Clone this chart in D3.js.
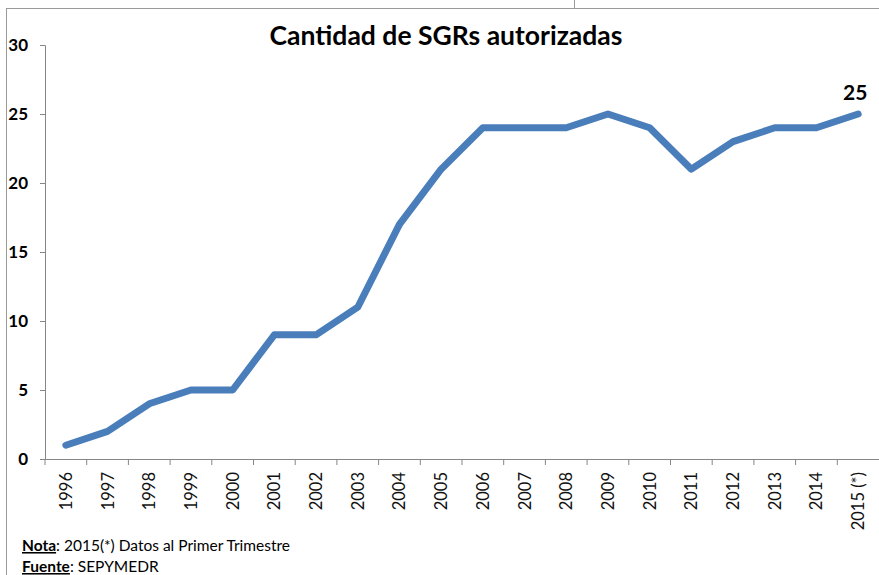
<!DOCTYPE html>
<html>
<head>
<meta charset="utf-8">
<script src="https://cdn.jsdelivr.net/npm/d3@7"></script>
<style>
  body { margin: 0; background: #fff; }
  svg text { font-family: Lato, "Open Sans", sans-serif; }
</style>
</head>
<body>
<div id="chart"></div>
<script>
var years = ["1996","1997","1998","1999","2000","2001","2002","2003","2004","2005",
             "2006","2007","2008","2009","2010","2011","2012","2013","2014","2015 (*)"];
var sgrs = [1, 2, 4, 5, 5, 9, 9, 11, 17, 21, 24, 24, 24, 25, 24, 21, 23, 24, 24, 25];
var yTicks = [0, 5, 10, 15, 20, 25, 30];

var width = 879, height = 575;
var plotLeft = 45, plotRight = 879, plotTop = 45, plotBottom = 459;

var svg = d3.select("#chart").append("svg")
    .attr("width", width)
    .attr("height", height);

// cell frame lines
svg.append("line").attr("x1", 7).attr("x2", width).attr("y1", 8.5).attr("y2", 8.5)
    .attr("stroke", "#9a9a9a").attr("stroke-width", 1);
svg.append("line").attr("x1", 6.5).attr("x2", 6.5).attr("y1", 8).attr("y2", height)
    .attr("stroke", "#9a9a9a").attr("stroke-width", 1);
svg.append("line").attr("x1", 574.5).attr("x2", 574.5).attr("y1", 0).attr("y2", 8)
    .attr("stroke", "#9a9a9a").attr("stroke-width", 1);

var x = d3.scaleBand()
    .domain(years)
    .range([plotLeft, plotRight]);

var y = d3.scaleLinear()
    .domain([0, 30])
    .range([plotBottom, plotTop]);

var yAxis = svg.append("g")
    .attr("transform", "translate(" + plotLeft + ",0)")
    .call(d3.axisLeft(y).tickValues(yTicks).tickSize(5).tickPadding(12));
yAxis.select(".domain").attr("stroke", "#868686");
yAxis.selectAll(".tick line").attr("stroke", "#868686");
yAxis.selectAll(".tick text")
    .attr("font-size", 17)
    .attr("font-weight", "bold")
    .attr("fill", "#000");

var xAxis = svg.append("g")
    .attr("transform", "translate(0," + plotBottom + ")")
    .call(d3.axisBottom(x).tickSize(0).tickFormat(""));
xAxis.select(".domain").attr("stroke", "#868686");

// ticks at category boundaries
svg.append("g").selectAll("line")
    .data(years)
    .enter()
    .append("line")
    .attr("x1", function(d){ return x(d); })
    .attr("x2", function(d){ return x(d); })
    .attr("y1", plotBottom)
    .attr("y2", plotBottom + 6)
    .attr("stroke", "#868686");

svg.append("g").selectAll("text")
    .data(years)
    .enter()
    .append("text")
    .attr("transform", function(d){
        return "translate(" + (x(d) + x.bandwidth() / 2 + 6) + "," + (plotBottom + 13) + ") rotate(-90)";
    })
    .attr("text-anchor", "end")
    .attr("font-size", 16.5)
    .attr("fill", "#111")
    .text(function(d){ return d; });

var line = d3.line()
    .x(function(d, i){ return x(years[i]) + x.bandwidth() / 2; })
    .y(function(d){ return y(d); });

svg.append("path")
    .datum(sgrs)
    .attr("d", line)
    .attr("fill", "none")
    .attr("stroke", "#4a7ebb")
    .attr("stroke-width", 7)
    .attr("stroke-linejoin", "round")
    .attr("stroke-linecap", "round");

var lastIdx = sgrs.length - 1;
svg.append("text")
    .attr("x", x(years[lastIdx]) + x.bandwidth() / 2 - 3)
    .attr("y", y(sgrs[lastIdx]) - 14)
    .attr("text-anchor", "middle")
    .attr("font-size", 21)
    .attr("font-weight", "bold")
    .text(sgrs[lastIdx]);

svg.append("text")
    .attr("x", 446)
    .attr("y", 45)
    .attr("text-anchor", "middle")
    .attr("font-size", 26.5)
    .attr("font-weight", "bold")
    .text("Cantidad de SGRs autorizadas");

var note = svg.append("text").attr("x", 22).attr("y", 551).attr("font-size", 15.5);
note.append("tspan").attr("font-weight", "bold").attr("text-decoration", "underline").text("Nota");
note.append("tspan").text(": 2015(*) Datos al Primer Trimestre");

var src = svg.append("text").attr("x", 22).attr("y", 572).attr("font-size", 15.5);
src.append("tspan").attr("font-weight", "bold").attr("text-decoration", "underline").text("Fuente");
src.append("tspan").text(": SEPYMEDR");
</script>
</body>
</html>
